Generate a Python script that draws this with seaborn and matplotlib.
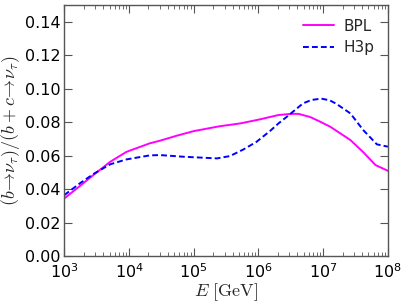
import numpy as np
import pandas as pd
import matplotlib
matplotlib.use("Agg")
import matplotlib.pyplot as plt
import seaborn as sns

# values (log10 of E in GeV, ratio)
bpl_logE = [3.0, 3.24, 3.45, 3.71, 3.96, 4.32, 4.48, 4.75, 5.0, 5.4, 5.72, 6.02, 6.31, 6.5, 6.62, 6.8, 6.95, 7.11, 7.42, 7.62, 7.81, 8.0]
bpl_ratio = [0.0344, 0.0418, 0.0484, 0.0563, 0.0622, 0.0673, 0.0689, 0.0720, 0.0746, 0.0775, 0.0792, 0.0816, 0.0842, 0.0849, 0.0849, 0.0830, 0.0803, 0.0772, 0.0693, 0.0620, 0.0543, 0.0509]

h3p_logE = [3.0, 3.24, 3.45, 3.71, 3.96, 4.32, 4.48, 4.84, 5.1, 5.36, 5.56, 5.77, 5.97, 6.18, 6.31, 6.44, 6.69, 6.82, 6.97, 7.1, 7.2, 7.42, 7.62, 7.83, 8.0]
h3p_ratio = [0.0364, 0.0434, 0.0490, 0.0548, 0.0577, 0.0601, 0.0603, 0.0593, 0.0588, 0.0583, 0.0597, 0.0637, 0.0682, 0.0747, 0.0792, 0.0832, 0.0912, 0.0932, 0.0940, 0.0930, 0.0910, 0.0852, 0.0752, 0.0667, 0.0653]

df = pd.concat([
    pd.DataFrame({"E": np.power(10.0, bpl_logE), "ratio": bpl_ratio, "model": "BPL"}),
    pd.DataFrame({"E": np.power(10.0, h3p_logE), "ratio": h3p_ratio, "model": "H3p"}),
])

sns.set_theme(style="ticks")
plt.rcParams["font.family"] = ["DejaVu Sans"]
plt.rcParams["mathtext.fontset"] = "cm"

fig = plt.figure(figsize=(4.07, 3.03), dpi=100)
ax = fig.add_axes([0.158, 0.155, 0.795, 0.829])

sns.lineplot(data=df, x="E", y="ratio", hue="model", style="model",
             palette={"BPL": "#ff00ff", "H3p": "#0000ff"},
             dashes={"BPL": "", "H3p": (3, 1.6)}, linewidth=1.4, ax=ax)

ax.set_xscale("log")
ax.set_xlim(1e3, 1e8)
ax.set_ylim(0, 0.15)
ax.set_yticks(np.arange(0, 0.141, 0.02))
ax.set_yticklabels([f"{v:.2f}" for v in np.arange(0, 0.141, 0.02)])
ax.set_xlabel(r"$E\ [\mathrm{GeV}]$", fontsize=13, labelpad=0)
ax.set_ylabel(r"$(b\!\rightarrow\!\nu_\tau)/(b+c\!\rightarrow\!\nu_\tau)$", fontsize=13, labelpad=2)

for s in ax.spines.values():
    s.set_color("#555555")
    s.set_linewidth(1.0)
ax.tick_params(which="both", direction="in", top=True, right=True, colors="#555555",
               labelcolor="black", labelsize=11.5)
ax.tick_params(which="major", length=6, width=0.8)
ax.tick_params(which="minor", length=3, width=0.6)
ax.tick_params(axis="x", which="major", pad=4.5)
ax.tick_params(axis="y", which="major", pad=3)

leg = ax.legend(frameon=False, loc="upper right", fontsize=11, handlelength=2.0,
                handletextpad=0.6, borderaxespad=0.5, labelspacing=0.45)

fig.savefig("out.png", dpi=100)
